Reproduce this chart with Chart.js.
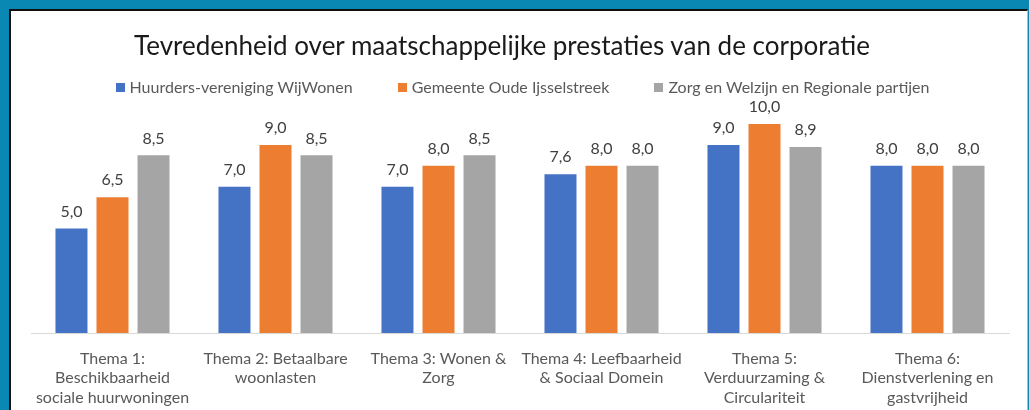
<!DOCTYPE html>
<html>
<head>
<meta charset="utf-8">
<script src="https://cdn.jsdelivr.net/npm/chart.js@4.4.0/dist/chart.umd.min.js"></script>
<style>
  html, body { margin: 0; padding: 0; }
  body { width: 1029px; height: 410px; background: #0a88b4; overflow: hidden; position: relative;
         font-family: Lato, 'Open Sans', sans-serif; }
  #frame { position: absolute; left: 9px; top: 9px; width: 1016px; height: 420px;
           border-left: 2px solid #111; border-top: 2px solid #111; border-right: 1px solid #bbb;
           background: #fff; }
  #wrap { position: absolute; left: 0; top: 0; width: 1015px; height: 399px; }
  #title { position: absolute; left: 0; width: 1004px; top: 29px; height: 32px; line-height: 32px;
           text-align: center; font-size: 26px; color: #1a1a1a; white-space: nowrap; }
  #legend { position: absolute; left: 0; width: 1045px; top: 77px; height: 20px;
            display: flex; justify-content: center; gap: 45px; font-size: 16px; color: #595959; }
  .item { display: flex; align-items: center; white-space: nowrap; line-height: 20px; }
  .box { width: 9px; height: 9px; margin-right: 5px; }
</style>
</head>
<body>
<div id="frame"><div id="wrap"><canvas id="c"></canvas></div></div>
<div id="title"></div>
<div id="legend"></div>
<script>
const categories = [
  ["Thema 1:", "Beschikbaarheid", "sociale huurwoningen"],
  ["Thema 2: Betaalbare", "woonlasten"],
  ["Thema 3: Wonen &", "Zorg"],
  ["Thema 4: Leefbaarheid", "& Sociaal Domein"],
  ["Thema 5:", "Verduurzaming &", "Circulariteit"],
  ["Thema 6:", "Dienstverlening en", "gastvrijheid"]
];
const seriesNames = ["Huurders-vereniging WijWonen", "Gemeente Oude Ijsselstreek", "Zorg en Welzijn en Regionale partijen"];
const huurders = [5.0, 7.0, 7.0, 7.6, 9.0, 8.0];
const gemeente = [6.5, 9.0, 8.0, 8.0, 10.0, 8.0];
const zorg = [8.5, 8.5, 8.5, 8.0, 8.9, 8.0];
const colors = ["#4472C4", "#ED7D31", "#A5A5A5"];
const titleText = "Tevredenheid over maatschappelijke prestaties van de corporatie";

const FONT = "Lato, 'Open Sans', sans-serif";

document.getElementById('title').textContent = titleText;
const legendEl = document.getElementById('legend');
seriesNames.forEach((name, i) => {
  const item = document.createElement('div');
  item.className = 'item';
  const box = document.createElement('span');
  box.className = 'box';
  box.style.background = colors[i];
  const txt = document.createElement('span');
  txt.textContent = name;
  item.appendChild(box);
  item.appendChild(txt);
  legendEl.appendChild(item);
});

const valueLabels = {
  id: 'valueLabels',
  afterDatasetsDraw(chart) {
    const ctx = chart.ctx;
    ctx.save();
    ctx.font = "16px " + FONT;
    ctx.fillStyle = "#404040";
    ctx.textAlign = "center";
    ctx.textBaseline = "bottom";
    chart.data.datasets.forEach((ds, di) => {
      const meta = chart.getDatasetMeta(di);
      meta.data.forEach((el, i) => {
        const v = ds.data[i];
        ctx.fillText(v.toFixed(1).replace('.', ','), el.x, el.y - 9);
      });
    });
    ctx.restore();
  }
};

new Chart(document.getElementById('c'), {
  type: 'bar',
  data: {
    labels: categories,
    datasets: [
      { label: seriesNames[0], data: huurders, backgroundColor: colors[0] },
      { label: seriesNames[1], data: gemeente, backgroundColor: colors[1] },
      { label: seriesNames[2], data: zorg, backgroundColor: colors[2] }
    ]
  },
  options: {
    responsive: true,
    maintainAspectRatio: false,
    animation: false,
    datasets: { bar: { barPercentage: 0.78, categoryPercentage: 0.755 } },
    layout: { padding: { left: 20, right: 17, top: 113, bottom: 0 } },
    plugins: {
      title: { display: false },
      legend: { display: false },
      tooltip: { enabled: false }
    },
    scales: {
      x: {
        grid: { display: false, drawTicks: false },
        border: { display: true, color: "#D9D9D9", width: 1 },
        ticks: { color: "#595959", font: { family: FONT, size: 16, lineHeight: 1.22 }, padding: 16, maxRotation: 0, autoSkip: false },
        afterFit(scale) { scale.height = 77; }
      },
      y: {
        display: false, min: 0, max: 10
      }
    }
  },
  plugins: [valueLabels]
});
</script>
</body>
</html>
